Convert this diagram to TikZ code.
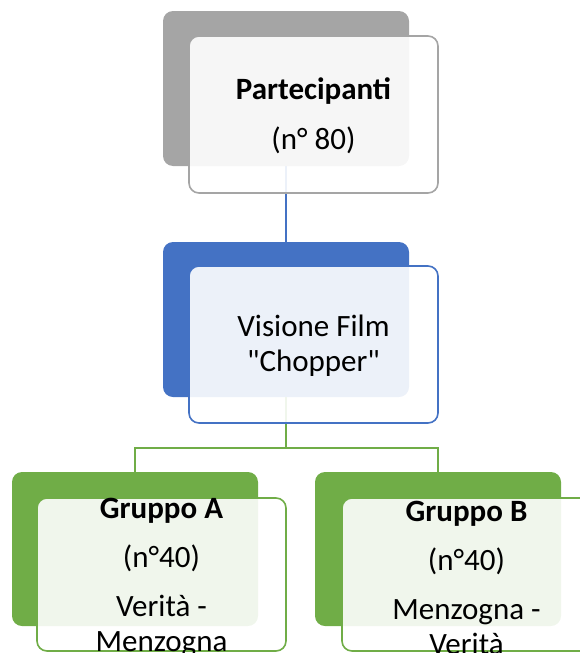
\documentclass[tikz,border=0pt]{standalone}
\usepackage{fontspec}
\setmainfont{Carlito}
\font\qfont="Carlito" at 31pt
\newcommand{\sq}{{\qfont\char34}}
\definecolor{cgray}{HTML}{A5A5A5}
\definecolor{cblue}{HTML}{4472C4}
\definecolor{cgreen}{HTML}{70AD47}
\begin{document}
\begin{tikzpicture}[x=1pt,y=-1pt,
 back/.style={rectangle, rounded corners=10pt, minimum width=246pt, minimum height=155pt, inner sep=0pt, outer sep=0pt, anchor=north west, fill=#1},
 front/.style={rectangle, rounded corners=10pt, minimum width=249pt, minimum height=157pt, inner sep=0pt, outer sep=0pt, anchor=north west, draw=#1, line width=1.6pt, fill=white, fill opacity=0.9},
 txt/.style={align=center, font=\fontsize{31}{35}\selectfont, inner sep=0pt, text=black},
 conn/.style={draw=#1, line width=1.6pt}]
\useasboundingbox (0,0) rectangle (580,653);
\clip (0,0) rectangle (580,653);
% back boxes
\node[back=cgray] (pb) at (163,11) {};
\node[back=cblue] (vb) at (163,242) {};
\node[back=cgreen, minimum height=154pt] (ab) at (12,472) {};
\node[back=cgreen, minimum height=154pt] (bb) at (315,472) {};
% connectors
\draw[conn=cblue] (pb.south) -- (vb.north);
\draw[conn=cgreen] (ab.north) -- ++(0,-24) -| (vb.south);
\draw[conn=cgreen] (bb.north) -- ++(0,-24) -| (vb.south);
% front boxes
\node[front=cgray] (pf) at (189,36) {};
\node[front=cblue] (vf) at (189,266) {};
\node[front=cgreen, minimum height=153pt] (af) at (37,498) {};
\node[front=cgreen, minimum height=153pt] (bf) at (342,498) {};
% texts
\node[txt] (pt) at ([yshift=-1.5pt]pf.center) {\bfseries Partecipanti\\[15pt](n° 80)};
\node[txt] (vt) at ([yshift=-1.5pt]vf.center) {Visione Film\\\sq Chopper\sq};
\node[txt] (at) at ([yshift=-3pt]af.center) {\bfseries Gruppo A\\[14pt](n°40)\\[14pt]Verità -\\Menzogna};
\node[txt] (bt) at ([yshift=-3pt]bf.center) {\bfseries Gruppo B\\[14pt](n°40)\\[14pt]Menzogna -\\Verità};
\end{tikzpicture}
\end{document}
